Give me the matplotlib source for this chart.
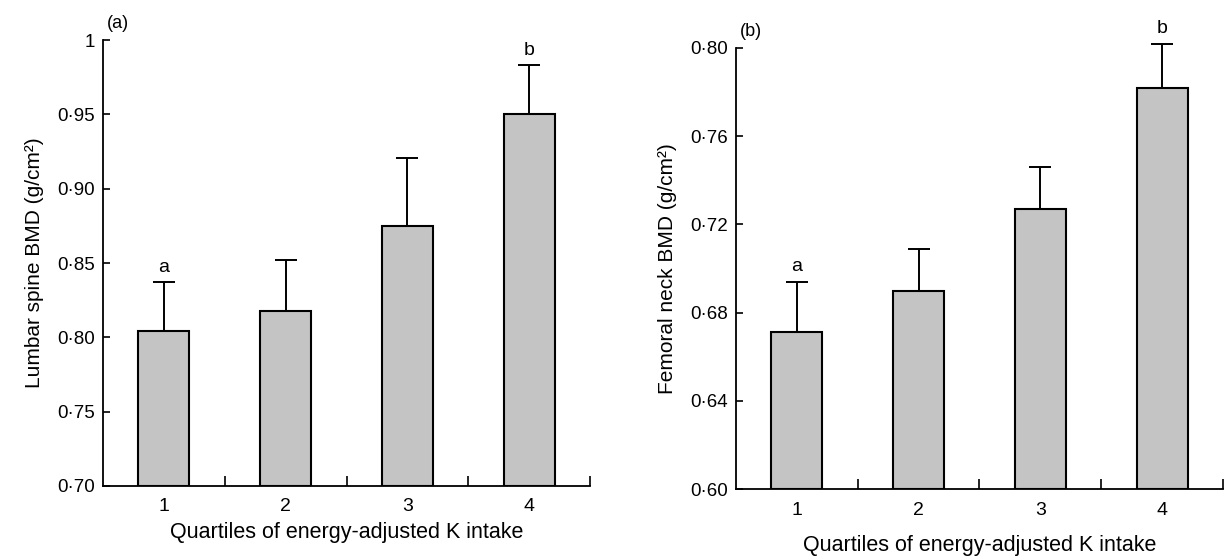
import numpy as np
import matplotlib.pyplot as plt
from matplotlib.ticker import FixedLocator, FixedFormatter

plt.rcParams['font.family'] = ['Liberation Sans', 'DejaVu Sans']

# data
quartiles = [1, 2, 3, 4]
spine_mean = [0.804, 0.818, 0.875, 0.950]
spine_upper = [0.837, 0.852, 0.921, 0.983]
neck_mean = [0.671, 0.690, 0.727, 0.782]
neck_upper = [0.694, 0.709, 0.746, 0.802]
spine_ticks = [0.70, 0.75, 0.80, 0.85, 0.90, 0.95, 1.0]
spine_ticklabels = ['0·70', '0·75', '0·80', '0·85', '0·90', '0·95', '1']
neck_ticks = [0.60, 0.64, 0.68, 0.72, 0.76, 0.80]
neck_ticklabels = ['0·60', '0·64', '0·68', '0·72', '0·76', '0·80']
letters = ['a', '', '', 'b']

fig = plt.figure(figsize=(12.28, 5.56), dpi=100)
ax1 = fig.add_axes([0.0839, 0.1259, 0.3966, 0.802])
ax2 = fig.add_axes([0.5993, 0.1205, 0.3966, 0.7932])


def draw_panel(ax, mean, upper, base, top, ticks, ticklabels, ylabel, tag,
               letter_off, xpad):
    x = np.array(quartiles)
    mean = np.array(mean)
    err = np.array(upper) - mean
    ax.bar(x, mean - base, bottom=base, width=0.42, color='#c4c4c4',
           edgecolor='black', linewidth=1.5, zorder=2)
    eb = ax.errorbar(x, mean, yerr=[np.zeros_like(err), err], fmt='none',
                     ecolor='black', elinewidth=1.4, capsize=8, capthick=1.4, zorder=3)
    for art in list(eb.lines[1]) + list(eb.lines[2]):
        art.set_clip_on(False)
    for xi, u, s in zip(x, upper, letters):
        if s:
            ax.text(xi, u + letter_off, s, ha='center', va='bottom', fontsize=14)
    ax.set_xlim(0.5, 4.5)
    ax.set_ylim(base, top)
    ax.spines['top'].set_visible(False)
    ax.spines['right'].set_visible(False)
    ax.spines['left'].set_linewidth(1.3)
    ax.spines['bottom'].set_linewidth(1.3)
    ax.set_xticks(x)
    ax.set_xticklabels([str(q) for q in quartiles], fontsize=14)
    ax.xaxis.set_minor_locator(FixedLocator([1.5, 2.5, 3.5, 4.5]))
    ax.tick_params(axis='x', which='major', length=0, pad=9)
    ax.tick_params(axis='x', which='minor', direction='in', length=7, width=1.2)
    ax.yaxis.set_major_locator(FixedLocator(ticks))
    ax.yaxis.set_major_formatter(FixedFormatter(ticklabels))
    ax.tick_params(axis='y', direction='in', length=5, width=1.2, labelsize=13.5, pad=6)
    ax.set_ylabel(ylabel, fontsize=15, labelpad=9)
    ax.set_xlabel('Quartiles of energy-adjusted K intake', fontsize=15.5, labelpad=xpad)
    ax.text(0.008, 1.018, tag, transform=ax.transAxes, fontsize=13, ha='left', va='bottom')


draw_panel(ax1, spine_mean, spine_upper, 0.70, 1.0, spine_ticks, spine_ticklabels,
           'Lumbar spine BMD (g/cm²)', '(a)', 0.004, 5)
draw_panel(ax2, neck_mean, neck_upper, 0.60, 0.80, neck_ticks, neck_ticklabels,
           'Femoral neck BMD (g/cm²)', '(b)', 0.003, 12)

fig.savefig('out.png', dpi=100)
